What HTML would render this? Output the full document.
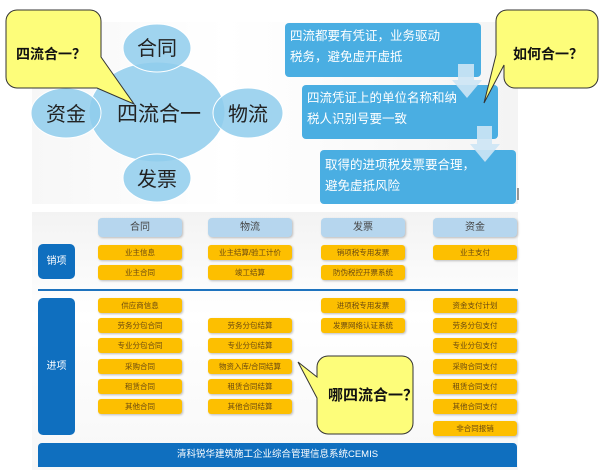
<!DOCTYPE html>
<html><head><meta charset="utf-8"><style>
body{margin:0;width:604px;height:471px;background:#fff;position:relative;overflow:hidden;font-family:"Liberation Sans","Noto Sans CJK SC",sans-serif}
.a{position:absolute}
.o{position:absolute;background:#fdbf00;border-radius:3px;box-shadow:1px 1px 2px #bbb;font-size:7.5px;color:#6b4a10;text-align:center;line-height:15px;height:15px;width:84px}
.h{position:absolute;background:#b6d6ee;border-radius:4px;box-shadow:1px 1px 2px #bbb;font-size:10px;color:#444;text-align:center;line-height:19px;height:19px;width:84px;top:218px}
.bb{position:absolute;background:#4aaee2;border-radius:4px;color:#fff;font-size:12.5px;line-height:21px;padding:3px 0 0 5px;box-sizing:border-box;width:196px;height:54px}
</style></head><body>
<div class="a" style="left:32px;top:22px;width:486px;height:182px;background:linear-gradient(90deg,#f7f7f7,#fff 40%,#f4f4f4)"></div>
<div class="a" style="left:32px;top:212px;width:486px;height:258px;background:linear-gradient(180deg,#f3f3f3,#fff 40%,#f7f7f7)"></div>
<svg class="a" style="left:0;top:0" width="604" height="471">
<g fill="#8fcdec" fill-opacity="0.85" stroke="#fff" stroke-width="1">
<ellipse cx="157" cy="112" rx="68" ry="50"/>
<ellipse cx="157" cy="48" rx="34" ry="24"/>
<ellipse cx="66" cy="113" rx="35" ry="25"/>
<ellipse cx="248" cy="113" rx="35" ry="25"/>
<ellipse cx="157" cy="178" rx="34" ry="24"/>
</g>
<g font-size="20" fill="#222" text-anchor="middle">
<text x="157" y="55">合同</text><text x="66" y="121">资金</text>
<text x="248" y="121">物流</text><text x="157" y="186">发票</text>
<text x="159" y="121" font-size="21">四流合一</text>
</g>
</svg>
<div class="bb" style="left:285px;top:23px">四流都要有凭证，业务驱动<br>税务，避免虚开虚抵</div>
<div class="bb" style="left:302px;top:85px">四流凭证上的单位名称和纳<br>税人识别号要一致</div>
<div class="bb" style="left:320px;top:150px;padding-top:5px">取得的进项税发票要合理，<br>避免虚抵风险</div>
<svg class="a" style="left:0;top:0" width="604" height="471">
<g fill="#cde5f5" fill-opacity="0.9">
<path d="M458 64h16v16h8l-15 18l-15-18h6z"/>
<path d="M477 126h15v18h8l-15 18l-15-18h7z"/>
</g>
<g fill="#fdfd7a" stroke="#333" stroke-width="1">
<path d="M17 10h73a11 11 0 0 1 11 11v36l33 47l-37-16h-80a11 11 0 0 1-11-11v-56a11 11 0 0 1 11-11z"/>
<path d="M513 10h74a11 11 0 0 1 11 11v56a11 11 0 0 1-11 11h-72a11 11 0 0 1-11-11v-12l-20 38l12-48v-34a11 11 0 0 1 11-11z" />
<path d="M328 356h74a11 11 0 0 1 11 11v56a11 11 0 0 1-11 11h-74a11 11 0 0 1-11-11v-25l-19-36l19 15v-10a11 11 0 0 1 11-11z"/>
</g>
<g font-weight="bold" fill="#111" font-size="14">
<text x="16" y="59">四流合一？</text>
<text x="513" y="59">如何合一？</text>
<text x="328" y="400" font-size="15">哪四流合一？</text>
</g>
<line x1="38" y1="290" x2="518" y2="290" stroke="#1e73be" stroke-width="2"/>
<line x1="518" y1="188" x2="518" y2="200" stroke="#333" stroke-width="1"/>
</svg>
<div class="h" style="left:98px">合同</div><div class="h" style="left:208px">物流</div>
<div class="h" style="left:321px">发票</div><div class="h" style="left:433px">资金</div>
<div class="a" style="left:38px;top:244px;width:37px;height:35px;background:#0f6fbf;border-radius:5px;color:#fff;font-size:10px;line-height:35px;text-align:center">销项</div>
<div class="a" style="left:38px;top:298px;width:37px;height:137px;background:#0f6fbf;border-radius:5px;color:#fff;font-size:10px;line-height:137px;text-align:center">进项</div>
<div class="o" style="left:98px;top:245px">业主信息</div><div class="o" style="left:98px;top:265px">业主合同</div>
<div class="o" style="left:208px;top:245px">业主结算/验工计价</div><div class="o" style="left:208px;top:265px">竣工结算</div>
<div class="o" style="left:321px;top:245px">销项税专用发票</div><div class="o" style="left:321px;top:265px">防伪税控开票系统</div>
<div class="o" style="left:433px;top:245px">业主支付</div>
<div class="o" style="left:98px;top:298px">供应商信息</div><div class="o" style="left:98px;top:318px">劳务分包合同</div>
<div class="o" style="left:98px;top:338px">专业分包合同</div><div class="o" style="left:98px;top:359px">采购合同</div>
<div class="o" style="left:98px;top:379px">租赁合同</div><div class="o" style="left:98px;top:399px">其他合同</div>
<div class="o" style="left:208px;top:318px">劳务分包结算</div><div class="o" style="left:208px;top:338px">专业分包结算</div>
<div class="o" style="left:208px;top:359px">物资入库/合同结算</div><div class="o" style="left:208px;top:379px">租赁合同结算</div>
<div class="o" style="left:208px;top:399px">其他合同结算</div>
<div class="o" style="left:321px;top:298px">进项税专用发票</div><div class="o" style="left:321px;top:318px">发票网络认证系统</div>
<div class="o" style="left:433px;top:298px">资金支付计划</div><div class="o" style="left:433px;top:318px">劳务分包支付</div>
<div class="o" style="left:433px;top:338px">专业分包支付</div><div class="o" style="left:433px;top:359px">采购合同支付</div>
<div class="o" style="left:433px;top:379px">租赁合同支付</div><div class="o" style="left:433px;top:399px">其他合同支付</div>
<div class="o" style="left:433px;top:421px">非合同报销</div>
<div class="a" style="left:38px;top:443px;width:479px;height:24px;background:#0f6fbf;border-radius:4px 4px 0 0;color:#fff;font-size:9.5px;line-height:24px;text-align:center">清科锐华建筑施工企业综合管理信息系统CEMIS</div>
</body></html>
